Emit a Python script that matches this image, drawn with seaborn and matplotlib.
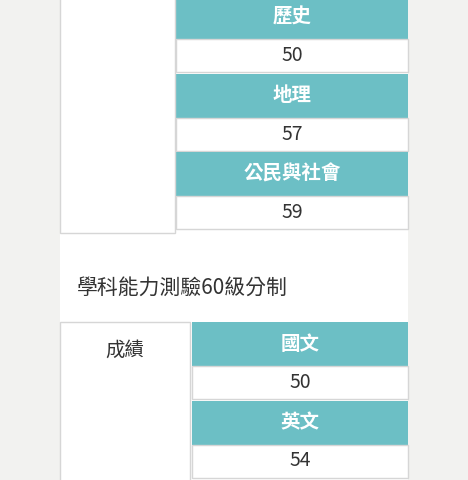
import matplotlib.pyplot as plt
import seaborn as sns
from matplotlib.patches import Rectangle

sns.set_theme(style="white")
plt.rcParams["font.family"] = ["Noto Sans CJK TC", "DejaVu Sans"]

top_subjects = ["歷史", "地理", "公民與社會"]
top_scores = [50, 57, 59]
section_title = "學科能力測驗60級分制"
left_label = "成績"
bottom_subjects = ["國文", "英文"]
bottom_scores = [50, 54]

teal = "#6cbfc5"
border = "#d6d6d6"

fig = plt.figure(figsize=(4.68, 4.8), dpi=100)
fig.patch.set_facecolor("#f2f2f0")
ax = fig.add_axes([0, 0, 1, 1])
ax.set_xlim(0, 468)
ax.set_ylim(480, 0)
ax.axis("off")

# white panel
ax.add_patch(Rectangle((60, -5), 348, 490, facecolor="white", edgecolor="none"))


def draw_table(y0, lx0, lx1, rx0, rx1, subjects, scores, label=None, left_h=None):
    hh, vh, gap = 44, 33, 1.5
    y = y0
    for s, v in zip(subjects, scores):
        ax.add_patch(Rectangle((rx0, y), rx1 - rx0, hh, facecolor=teal, edgecolor="none"))
        ax.text((rx0 + rx1) / 2, y + hh / 2, s, color="white", fontsize=14,
                fontweight="bold", ha="center", va="center")
        y += hh
        ax.add_patch(Rectangle((rx0, y), rx1 - rx0, vh, facecolor="white", edgecolor=border, lw=1))
        ax.text((rx0 + rx1) / 2, y + vh / 2, str(v), color="#333333", fontsize=14,
                ha="center", va="center")
        y += vh + gap
    h = left_h if left_h is not None else y - y0
    ax.add_patch(Rectangle((lx0, y0), lx1 - lx0, h, facecolor="white", edgecolor=border, lw=1))
    if label:
        ax.text((lx0 + lx1) / 2, y0 + 28, label, color="#333333", fontsize=14,
                ha="center", va="center")
    return y


draw_table(-5, 60, 175, 176, 408, top_subjects, top_scores, left_h=238)
ax.text(77, 288, section_title, color="#333333", fontsize=15, ha="left", va="center")
draw_table(322, 60, 190, 192, 408, bottom_subjects, bottom_scores, label=left_label, left_h=200)

fig.savefig("out.png", dpi=100, facecolor=fig.get_facecolor())
